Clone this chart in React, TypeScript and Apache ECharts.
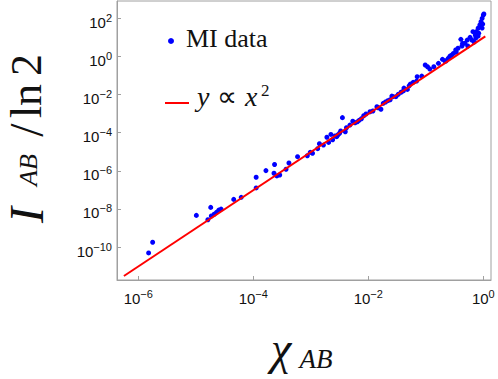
import React, { useEffect, useRef } from "react";
import * as echarts from "echarts";

// MI data, stored as log10 values
const miLog10Chi = [
  -5.82, -5.75, -4.99, -4.74, -4.79, -4.73, -4.68, -4.64, -4.6, -4.56,
  -4.34, -4.21, -3.95, -3.95, -3.78, -3.63, -3.64, -3.59, -3.54, -3.43,
  -3.38, -3.23, -3.06, -3.01, -2.97, -2.88, -2.85, -2.78, -2.72, -2.69,
  -2.65, -2.62, -2.55, -2.5, -2.45, -2.48, -2.4, -2.38, -2.32, -2.27,
  -2.23, -2.19, -2.16, -2.12, -2.08, -2.04, -1.97, -1.92, -1.85, -1.83,
  -1.78, -1.74, -1.7, -1.66, -1.62, -1.59, -1.57, -1.52, -1.48, -1.43,
  -1.39, -1.32, -1.29, -1.22, -1.15, -1.16, -1.07, -1.01, -0.97, -0.93,
  -0.86, -0.78, -0.71, -0.67, -0.61, -0.52, -0.48, -0.44, -0.39, -0.36,
  -0.32, -0.28, -0.23, -0.18, -0.14, -0.12, -0.09, -0.06, -0.04, -0.02,
  0.0, 0.01, -0.2, -0.13, -0.08, -0.02, -0.01, -0.09, -0.16, -0.27,
  -0.58, -0.65, -1.38, -1.27, -2.58, -2.53, -0.37, -0.47, -0.55,
];
const miLog10I = [
  -10.31, -9.75, -8.34, -7.92, -8.57, -8.37, -8.28, -8.18, -8.06, -8.01,
  -7.5, -7.39, -6.9, -6.34, -5.99, -5.67, -6.13, -6.27, -6.22, -5.92,
  -5.59, -5.26, -5.21, -5.03, -5.08, -4.84, -4.58, -4.65, -4.24, -4.51,
  -4.09, -4.37, -4.21, -4.03, -3.21, -3.91, -3.95, -3.74, -3.6, -3.4,
  -3.48, -3.43, -3.35, -3.27, -3.11, -3.02, -2.9, -2.86, -2.64, -2.69,
  -2.77, -2.46, -2.39, -2.32, -2.27, -2.08, -2.11, -2.11, -1.99, -1.88,
  -1.81, -1.73, -1.54, -1.36, -1.06, -1.29, -1.03, -0.45, -0.54, -0.66,
  -0.54, -0.36, -0.15, -0.23, -0.1, 0.16, 0.34, 0.43, 0.9, 0.69,
  0.69, 0.86, 1.0, 1.3, 1.12, 1.3, 1.48, 1.65, 1.82, 2.0,
  2.17, 2.23, 0.86, 0.97, 1.22, 1.49, 1.7, 1.07, 0.76, 0.55,
  0.02, -0.24, -1.66, -1.45, -4.17, -4.12, 0.55, 0.23, 0.07,
];

// y ∝ x^2 reference line (log10 end points)
const fitLog10Chi = [-6.25, 0.035];
const fitLog10I = [-11.52, 1.05];

const xTicks = [-6, -4, -2, 0];
const yTicks = [-10, -8, -6, -4, -2, 0, 2];

const AXIS_GREY = "#a0a0a0";
const SERIF = "Liberation Serif";
const INK = "#111";
const supLabel = (v: number) =>
  `{b|10}{s|${v < 0 ? "\u2212" + Math.abs(v) : String(v)}}`;
const labelRich = {
  b: { fontSize: 15, lineHeight: 20, fontFamily: "Liberation Sans", color: INK },
  s: { fontSize: 11, lineHeight: 11, verticalAlign: "top", fontFamily: "Liberation Sans", color: INK },
};

const txt = (
  text: string,
  x: number,
  y: number,
  size: number,
  italic: boolean,
  rotated = false,
  align = "center"
) => ({
  type: "text",
  x,
  y,
  rotation: rotated ? Math.PI / 2 : 0,
  style: {
    text,
    fontFamily: SERIF,
    fontSize: size,
    fontStyle: italic ? "italic" : "normal",
    fill: INK,
    align,
    verticalAlign: "middle",
  },
});

export default function App() {
  const ref = useRef<HTMLDivElement>(null);
  useEffect(() => {
    if (!ref.current) return;
    const chart = echarts.init(ref.current, undefined, { renderer: "svg" });
    const scatterData = miLog10Chi.map((x, i) => [x, miLog10I[i]]);
    const lineData = fitLog10Chi.map((x, i) => [x, fitLog10I[i]]);
    chart.setOption({
      animation: false,
      backgroundColor: "#ffffff",
      grid: {
        left: 117,
        right: 7,
        top: 1,
        bottom: 99,
        show: true,
        borderColor: AXIS_GREY,
        borderWidth: 1,
      },
      xAxis: {
        type: "value",
        min: -6.37,
        max: 0.134,
        splitLine: { show: false },
        axisLine: { show: true, onZero: false, lineStyle: { color: AXIS_GREY } },
        axisTick: { show: true, inside: true, length: 4, lineStyle: { color: AXIS_GREY }, customValues: xTicks },
        axisLabel: {
          customValues: xTicks,
          formatter: supLabel,
          rich: labelRich,
          margin: 8,
        },
      },
      yAxis: {
        type: "value",
        min: -11.73,
        max: 2.91,
        splitLine: { show: false },
        axisLine: { show: true, onZero: false, lineStyle: { color: AXIS_GREY } },
        axisTick: { show: true, inside: true, length: 4, lineStyle: { color: AXIS_GREY }, customValues: yTicks },
        axisLabel: {
          customValues: yTicks,
          formatter: supLabel,
          rich: labelRich,
          margin: 5,
          padding: [8, 0, 0, 0],
        },
      },
      series: [
        {
          type: "scatter",
          data: scatterData,
          symbol: "circle",
          symbolSize: 5,
          itemStyle: { color: "#0000ff", opacity: 1 },
          z: 2,
        },
        {
          type: "line",
          data: lineData,
          showSymbol: false,
          lineStyle: { color: "#ff0000", width: 2 },
          z: 3,
        },
      ],
      graphic: [
        { type: "circle", shape: { cx: 171, cy: 41, r: 3 }, style: { fill: "#0000ff" } },
        txt("MI data", 186, 38, 26, false, false, "left"),
        { type: "line", shape: { x1: 165, y1: 103, x2: 189, y2: 103 }, style: { stroke: "#ff0000", lineWidth: 2 } },
        txt("y", 197, 96, 28, true, false, "left"),
        txt("\u221d", 217, 96, 28, false, false, "left"),
        txt("x", 245, 96, 28, true, false, "left"),
        txt("2", 261, 90, 17, false, false, "left"),
        // y-axis title: I_AB / ln 2 (rotated)
        txt("I", 26, 215, 48, true, true),
        txt("AB", 28, 170, 26, true, true),
        txt("/", 26, 130, 48, false, true),
        txt("ln", 26, 101, 44, false, true),
        txt("2", 26, 65, 44, false, true),
        // x-axis title: chi_AB
        txt("\u03c7", 281, 348, 46, true),
        txt("AB", 316, 359, 27, true),
      ],
    });
    return () => chart.dispose();
  }, []);
  return (
    <div
      ref={ref}
      style={{ position: "fixed", left: 0, top: 0, width: 498, height: 379 }}
    />
  );
}
